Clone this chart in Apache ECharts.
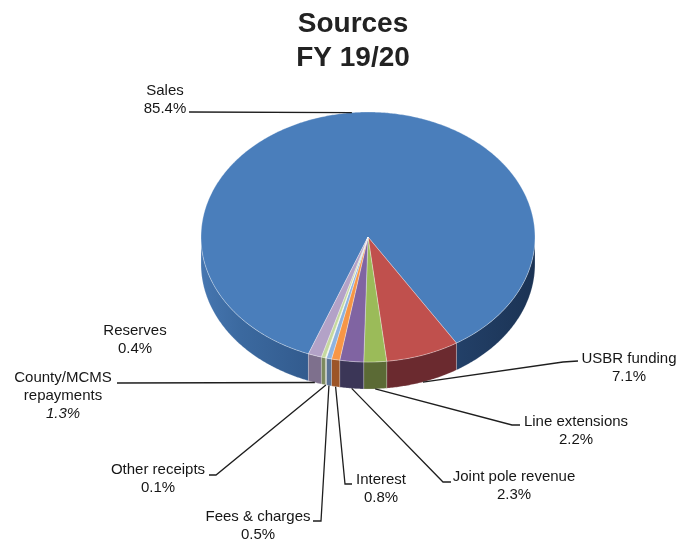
<!DOCTYPE html>
<html>
<head>
<meta charset="utf-8">
<script src="https://cdn.jsdelivr.net/npm/echarts@6/dist/echarts.min.js"></script>
<style>
  html, body { margin: 0; padding: 0; background: #ffffff; }
  #chart { width: 680px; height: 542px; }
</style>
</head>
<body>
<div id="chart"></div>
<script>
// Revenue sources, fiscal year 19/20 (percent of total)
const categories = ['Sales', 'USBR funding', 'Line extensions', 'Joint pole revenue', 'Interest',
                    'Fees & charges', 'Other receipts', 'Reserves', 'County/MCMS\nrepayments'];
const shares = [85.4, 7.1, 2.2, 2.3, 0.8, 0.5, 0.1, 0.4, 1.3];

// face and wall colours for each slice
const topColors  = ['#4a7ebb', '#c0504d', '#9bbb59', '#8064a2', '#f79646', '#8fb3e0', '#eef2e4', '#c6d9a0', '#b3a2c7'];
const sideColors = [null, '#6b2a2f', '#5b6a35', '#3b3657', '#9c5528', '#5b7396', '#b8bcae', '#7d8a5e', '#7e708d'];

// where each label sits and the elbow of its leader line
const labelSpots = [
  { x: 165, y: 91,  lead: [[189, 112]] },
  { x: 629, y: 359, lead: [[578, 361], [563, 362]] },
  { x: 576, y: 422, lead: [[520, 425], [512, 425]] },
  { x: 514, y: 477, lead: [[451, 482], [443, 482]] },
  { x: 381, y: 480, lead: [[352, 484], [345, 484]] },
  { x: 258, y: 517, lead: [[313, 521], [321, 521]] },
  { x: 158, y: 470, lead: [[209, 475], [216, 475]] },
  { x: 135, y: 331, lead: null },
  { x: 63,  y: 378, lead: [[117, 383]] }
];
const italicValue = [false, false, false, false, false, false, false, false, true];

// tilted-disc geometry
const CX = 368, CY = 237, RX = 167, RY = 125, DEPTH = 27, START_DEG = 110.9;
const LINE_H = 18;
const FONT = '"Liberation Sans", Arial, sans-serif';

const total = shares.reduce((a, b) => a + b, 0);
const seriesData = shares.map((v, i) => [v, shares.slice(0, i).reduce((a, b) => a + b, 0)]);

const rad = d => d * Math.PI / 180;
const rimPoint = (deg, dy) => [CX + RX * Math.cos(rad(deg)), CY + RY * Math.sin(rad(deg)) + (dy || 0)];

function arc(a, b, dy) {
  const pts = [];
  const n = Math.max(2, Math.ceil((b - a) / 0.5));
  for (let k = 0; k <= n; k++) pts.push(rimPoint(a + (b - a) * k / n, dy));
  return pts;
}

function renderSlice(params, api) {
  const i = params.dataIndex;
  const value = api.value(0);
  const before = api.value(1);
  const a = START_DEG + before / total * 360;
  const b = START_DEG + (before + value) / total * 360;
  const children = [];

  // front wall, only where the rim faces the viewer
  [0, 360, 720].forEach(k => {
    const s = Math.max(a, k), e = Math.min(b, k + 180);
    if (e > s) {
      const upper = arc(s, e, 0);
      const lower = arc(s, e, DEPTH).reverse();
      const wallFill = i === 0
        ? new echarts.graphic.LinearGradient(CX - RX, 0, CX + RX, 0, [
            { offset: 0, color: '#4676b0' },
            { offset: 0.12, color: '#3b699f' },
            { offset: 0.5, color: '#2b4f7f' },
            { offset: 1, color: '#1b3354' }
          ], true)
        : sideColors[i];
      children.push({
        type: 'polygon', z2: 1,
        shape: { points: upper.concat(lower) },
        style: { fill: wallFill, stroke: 'rgba(255,255,255,0.35)', lineWidth: 0.6 }
      });
    }
  });

  // top face of the slice
  children.push({
    type: 'polygon', z2: 5,
    shape: { points: [[CX, CY]].concat(arc(a, b, 0)) },
    style: { fill: topColors[i], stroke: 'rgba(255,255,255,0.45)', lineWidth: 0.7 }
  });

  // label text
  const spot = labelSpots[i];
  const lines = categories[i].split('\n');
  const valueText = value.toFixed(1) + '%';
  lines.forEach((t, k) => {
    children.push({
      type: 'text', z2: 10,
      style: { text: t, x: spot.x, y: spot.y + k * LINE_H, align: 'center', verticalAlign: 'middle',
               fill: '#161616', font: '15px ' + FONT }
    });
  });
  children.push({
    type: 'text', z2: 10,
    style: { text: valueText, x: spot.x, y: spot.y + lines.length * LINE_H, align: 'center',
             verticalAlign: 'middle', fill: '#161616',
             font: (italicValue[i] ? 'italic ' : '') + '15px ' + FONT }
  });

  // leader line to the slice rim
  if (spot.lead) {
    const mid = (a + b) / 2;
    const anchor = Math.sin(rad(mid)) > 0 ? rimPoint(mid, DEPTH) : rimPoint(mid, 0);
    children.push({
      type: 'polyline', z2: 8,
      shape: { points: spot.lead.concat([anchor]) },
      style: { stroke: '#1e1e1e', lineWidth: 1.3, fill: null }
    });
  }

  return { type: 'group', children: children };
}

const chart = echarts.init(document.getElementById('chart'), null, { renderer: 'canvas' });
chart.setOption({
  backgroundColor: '#ffffff',
  animation: false,
  title: {
    text: 'Sources\nFY 19/20',
    left: 348,
    top: 2,
    textAlign: 'center',
    textStyle: { fontFamily: FONT, fontSize: 28, fontWeight: 'bold', lineHeight: 34, color: '#222222' }
  },
  series: [{
    type: 'custom',
    coordinateSystem: 'none',
    silent: true,
    renderItem: renderSlice,
    data: seriesData
  }]
});
</script>
</body>
</html>
